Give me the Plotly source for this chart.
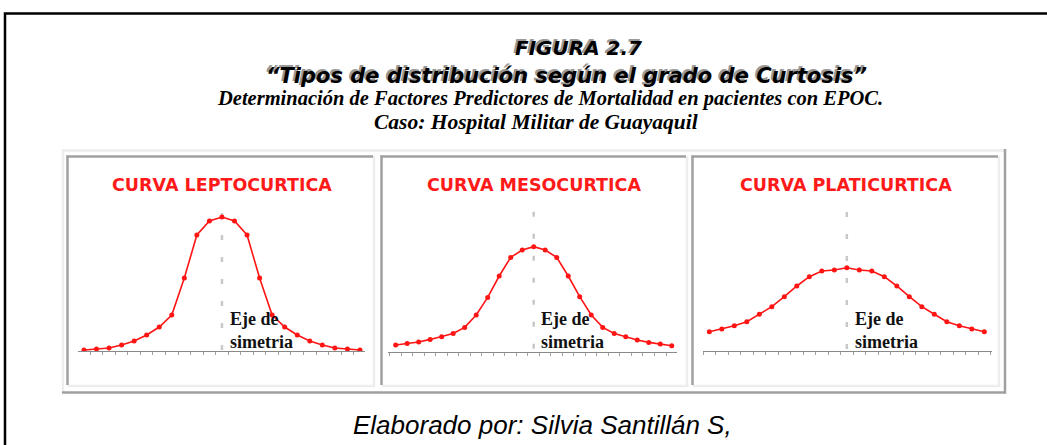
import plotly.graph_objects as go

W, H = 1047, 445

# ---- data (heights, pixel-ish units above baseline) ----
lepto_x = list(range(-11, 12))
lepto_y = [1, 2, 3, 6, 10, 16, 24, 36, 73, 116, 130, 134,
           130, 116, 73, 36, 24, 16, 10, 6, 3, 2, 1]
meso_x = list(range(-12, 13))
meso_y = [6.7, 8.3, 9.7, 12.3, 15, 18.3, 24.3, 36.7, 54.3, 75.7, 94.3, 101.7, 105,
          101.7, 94.3, 75.7, 55, 36.7, 24.3, 18.3, 15, 11.7, 9.3, 7.7, 6]
plati_x = list(range(-11, 12))
plati_y = [19.3, 22, 25.3, 29.3, 36.7, 44.3, 54.3, 65, 74.3, 80, 81, 83.3,
           81, 80, 74.3, 65, 54.3, 44.3, 36.7, 29.3, 25.3, 22, 19.3]
axis_tops = [138, 140, 139]

panel_titles = ["CURVA LEPTOCURTICA", "CURVA MESOCURTICA", "CURVA PLATICURTICA"]
axis_label = "Eje de<br>simetria"
fig_label = "FIGURA 2.7"
title_text = "“Tipos de distribución según el grado de Curtosis”"
sub1 = "Determinación de Factores Predictores de Mortalidad en pacientes con EPOC."
sub2 = "Caso: Hospital Militar de Guayaquil"
footer = "Elaborado por: Silvia Santillán S,"


def px(x):
    return x / W


def py(y):
    return 1 - y / H


series = [(lepto_x, lepto_y), (meso_x, meso_y), (plati_x, plati_y)]
# geometry per panel: axis left px, axis right px, baseline px, xrange
geo = [
    (78.3, 365.0, 351.0, [-11.45, 11.40]),
    (388.3, 676.7, 351.7, [-12.64, 12.43]),
    (702.7, 991.7, 351.0, [-11.53, 11.59]),
]
centers_px = [222, 533.5, 846]

fig = go.Figure()

for i, ((xs, ys), (xl, xr, yb, xr_rng)) in enumerate(zip(series, geo)):
    xa = "x" if i == 0 else f"x{i+1}"
    ya = "y" if i == 0 else f"y{i+1}"
    # symmetry axis (dashed)
    fig.add_trace(go.Scatter(
        x=[0, 0], y=[axis_tops[i], 0], mode="lines",
        line=dict(color="#c8c8c8", width=2.5, dash="5px,17px"),
        xaxis=xa, yaxis=ya, showlegend=False, hoverinfo="skip"))
    fig.add_trace(go.Scatter(
        x=xs, y=ys, mode="lines+markers",
        line=dict(color="#ff1414", width=1.6),
        marker=dict(color="#ff1414", size=5),
        xaxis=xa, yaxis=ya, showlegend=False))
    key = "" if i == 0 else str(i + 1)
    fig.layout["xaxis" + key] = dict(
        domain=[px(xl), px(xr)], range=xr_rng, anchor=ya,
        showgrid=False, zeroline=False, showline=True, linecolor="#8a8a8a",
        linewidth=1, ticks="outside", tick0=0.5, dtick=1, ticklen=3,
        tickcolor="#a0a0a0", tickwidth=1, showticklabels=False, fixedrange=True)
    fig.layout["yaxis" + key] = dict(
        domain=[py(yb), py(yb - 151)], range=[0, 151], anchor=xa,
        showgrid=False, zeroline=False, showline=False, showticklabels=False,
        fixedrange=True)

shapes = []


def hline(x0, x1, y, color, w=2.5):
    shapes.append(dict(type="line", xref="paper", yref="paper",
                       x0=px(x0), x1=px(x1), y0=py(y), y1=py(y),
                       line=dict(color=color, width=w)))


def vline(x, y0, y1, color, w=2.5):
    shapes.append(dict(type="line", xref="paper", yref="paper",
                       x0=px(x), x1=px(x), y0=py(y0), y1=py(y1),
                       line=dict(color=color, width=w)))


LIGHT, DARK = "#ededed", "#a0a0a0"
# outer container
hline(62, 1006, 150.5, LIGHT)
vline(63, 149, 393, LIGHT)
hline(62, 1006, 392.5, DARK)
vline(1005, 149, 393.5, DARK)
# panels (inset)
for (l, r) in [(67.5, 374.5), (381.5, 687.5), (692.5, 999.5)]:
    hline(l, r, 386, LIGHT)
    vline(r - 0.5, 156, 387, LIGHT)
    hline(l - 1, r - 1.5, 156.5, DARK)
    vline(l, 155.5, 385, DARK)

# big black frame
shapes.append(dict(type="rect", xref="paper", yref="paper",
                   x0=px(5), x1=px(1070), y0=py(13.5), y1=py(470),
                   line=dict(color="#000000", width=2.5)))
fig.update_layout(shapes=shapes)

ann = []


def text(x, y, s, size, family, color, xanchor="center", **kw):
    ann.append(dict(x=px(x), y=py(y), xref="paper", yref="paper", text=s,
                    showarrow=False, xanchor=xanchor, yanchor="middle",
                    font=dict(size=size, family=family, color=color), **kw))


for i, t in enumerate(panel_titles):
    text(centers_px[i], 184.5, f"<b>{t}</b>", 17.5, "DejaVu Sans", "#ff1a1a")

for xl in [228, 539, 853]:
    text(xl, 330, f"<b>{axis_label}</b>", 18, "Liberation Serif", "#111111",
         xanchor="left", align="left")

# headings with shadow effect
for (s, x, y, size) in [(fig_label, 578, 47, 20), (title_text, 566, 75, 21)]:
    text(x - 1.5, y - 1, f"<b><i>{s}</i></b>", size, "DejaVu Sans", "#9a9a9a")
    text(x + 0.5, y + 0.5, f"<b><i>{s}</i></b>", size, "DejaVu Sans", "#000000")

text(550, 98.5, f"<b><i>{sub1}</i></b>", 20.5, "Liberation Serif", "#000000")
text(536, 121.5, f"<b><i>{sub2}</i></b>", 21.5, "Liberation Serif", "#000000")
text(542, 425, f"<i>{footer}</i>", 26, "Liberation Sans", "#000000")

fig.update_layout(
    annotations=ann,
    width=W, height=H,
    margin=dict(l=0, r=0, t=0, b=0),
    paper_bgcolor="white", plot_bgcolor="rgba(0,0,0,0)",
    showlegend=False,
)

fig.write_html("out.html", config={"displayModeBar": False},
               post_script="document.body.style.margin='0';")
